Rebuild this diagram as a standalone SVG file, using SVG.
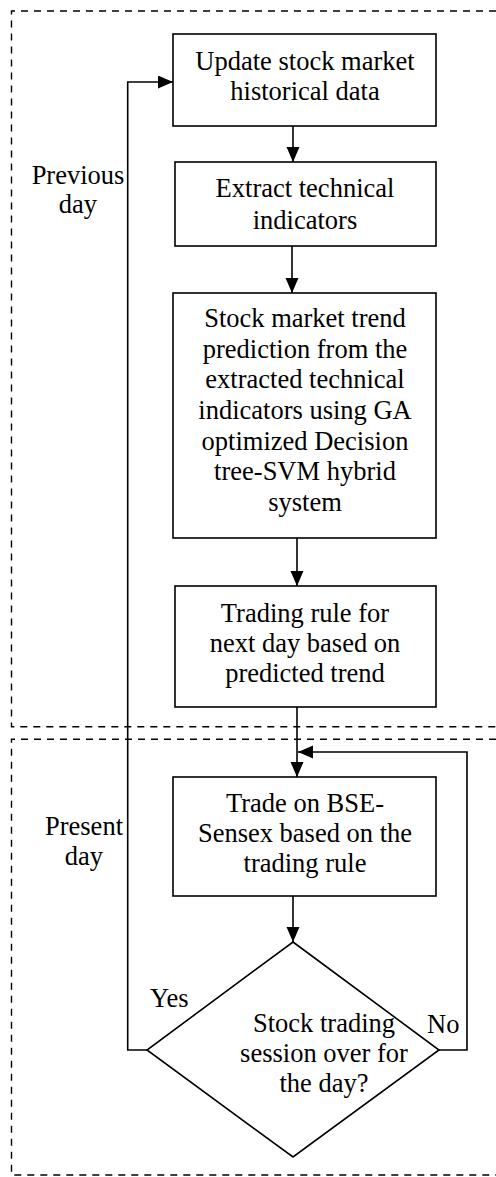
<svg xmlns="http://www.w3.org/2000/svg" width="496" height="1177" viewBox="0 0 496 1177">
<style>
.box{fill:#fff;stroke:#000;stroke-width:1.6}
.ln{fill:none;stroke:#000;stroke-width:1.6}
.dash{fill:none;stroke:#000;stroke-width:1.4;stroke-dasharray:7 6}
text{font-family:"Liberation Serif","Times New Roman",serif;font-size:26.5px;fill:#000}
.c{text-anchor:middle}
</style>
<defs>
<marker id="ah" markerUnits="userSpaceOnUse" markerWidth="16" markerHeight="14" refX="15" refY="6.5" orient="auto">
<path d="M0,0 L15,6.5 L0,13 z" fill="#000"/>
</marker>
</defs>
<rect width="496" height="1177" fill="#fff"/>
<g id="regions">
<path class="dash" d="M496,11 H11.5 V726.7 H496"/>
<path class="dash" d="M496,739.3 H11.5 V1175 H496"/>
<text class="c" x="78" y="184">Previous</text>
<text class="c" x="78" y="213">day</text>
<text class="c" x="84" y="835">Present</text>
<text class="c" x="84" y="865">day</text>
</g>
<g id="connectors">
<line class="ln" x1="293" y1="126" x2="293" y2="162" marker-end="url(#ah)"/>
<line class="ln" x1="292" y1="246" x2="292" y2="293" marker-end="url(#ah)"/>
<line class="ln" x1="297" y1="538" x2="297" y2="586" marker-end="url(#ah)"/>
<line class="ln" x1="297" y1="707" x2="297" y2="777" marker-end="url(#ah)"/>
<line class="ln" x1="293" y1="896" x2="293" y2="942" marker-end="url(#ah)"/>
<polyline class="ln" points="147,1050 127.7,1050 127.7,82 173,82" marker-end="url(#ah)"/>
<polyline class="ln" points="439,1050 467,1050 467,752 298,752" marker-end="url(#ah)"/>
<text x="150" y="1007">Yes</text>
<text x="427" y="1033">No</text>
</g>
<g id="n1">
<rect class="box" x="173" y="34" width="263" height="92"/>
<text class="c" x="305" y="70">Update stock market</text>
<text class="c" x="305" y="100">historical data</text>
</g>
<g id="n2">
<rect class="box" x="175" y="162" width="261" height="84"/>
<text class="c" x="305" y="197">Extract technical</text>
<text class="c" x="305" y="229">indicators</text>
</g>
<g id="n3">
<rect class="box" x="173" y="293" width="263" height="245"/>
<text class="c" x="305" y="327">Stock market trend</text>
<text class="c" x="305" y="357.5">prediction from the</text>
<text class="c" x="305" y="388">extracted technical</text>
<text class="c" x="305" y="419">indicators using GA</text>
<text class="c" x="305" y="449.5">optimized Decision</text>
<text class="c" x="305" y="480">tree-SVM hybrid</text>
<text class="c" x="305" y="511">system</text>
</g>
<g id="n4">
<rect class="box" x="175" y="586" width="261" height="121"/>
<text class="c" x="305" y="622">Trading rule for</text>
<text class="c" x="305" y="652">next day based on</text>
<text class="c" x="305" y="682">predicted trend</text>
</g>
<g id="n5">
<rect class="box" x="173" y="777" width="263" height="119"/>
<text class="c" x="305" y="812">Trade on BSE-</text>
<text class="c" x="305" y="842">Sensex based on the</text>
<text class="c" x="305" y="872">trading rule</text>
</g>
<g id="n6">
<polygon class="box" points="293,942 439,1050 293,1157 147,1050"/>
<text class="c" x="324" y="1032">Stock trading</text>
<text class="c" x="324" y="1062">session over for</text>
<text class="c" x="324" y="1092">the day?</text>
</g>
</svg>
